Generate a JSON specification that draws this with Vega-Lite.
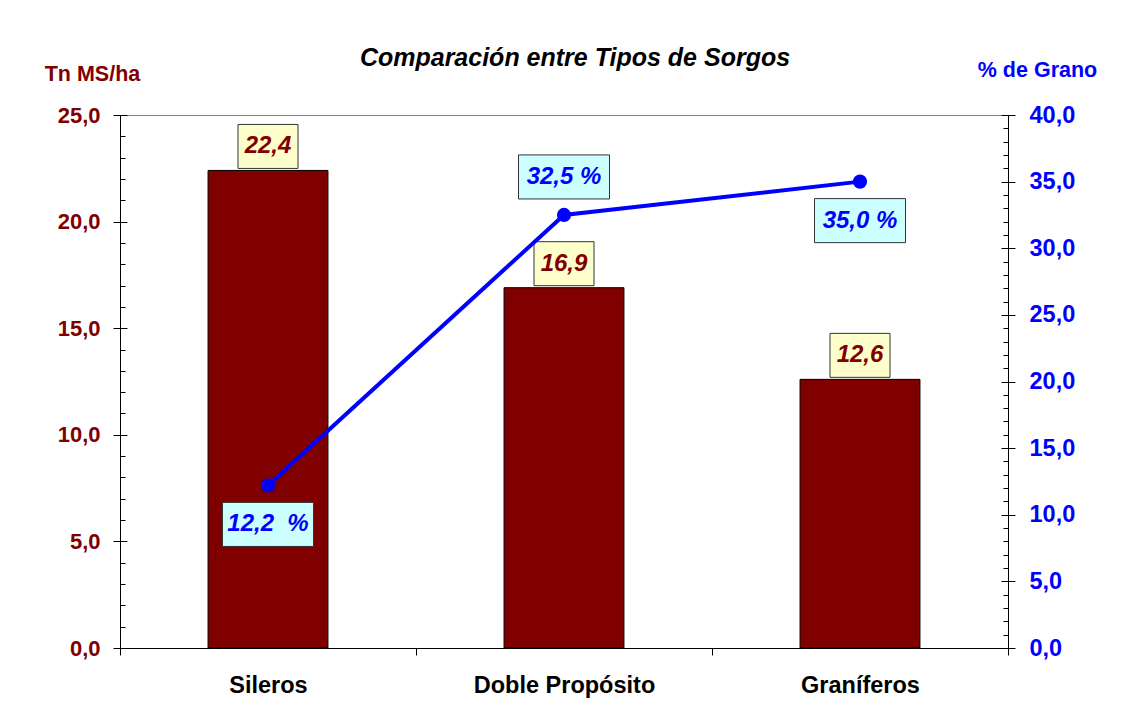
{
  "$schema": "https://vega.github.io/schema/vega-lite/v6.json",
  "width": 888,
  "height": 533,
  "autosize": "none",
  "padding": {"left": 120, "top": 115, "right": 123, "bottom": 63},
  "background": "white",
  "title": {
    "text": "Comparación entre Tipos de Sorgos",
    "font": "Liberation Sans",
    "fontSize": 25,
    "fontWeight": "bold",
    "fontStyle": "italic",
    "color": "black",
    "anchor": "middle",
    "frame": "group",
    "offset": -12,
    "dx": 11
  },
  "data": {
    "values": [
      {"tipo": "Sileros", "tn": 22.4, "tn_label": "22,4", "grano": 12.2, "grano_label": "12,2\u00a0 %"},
      {"tipo": "Doble Propósito", "tn": 16.9, "tn_label": "16,9", "grano": 32.5, "grano_label": "32,5 %"},
      {"tipo": "Graníferos", "tn": 12.6, "tn_label": "12,6", "grano": 35.0, "grano_label": "35,0 %"}
    ]
  },
  "encoding": {
    "x": {
      "field": "tipo",
      "type": "nominal",
      "sort": null,
      "scale": {"paddingInner": 0, "paddingOuter": 0},
      "axis": {
        "title": null,
        "labelAngle": 0,
        "labelFont": "Liberation Sans",
        "labelFontSize": 23.5,
        "labelFontWeight": "bold",
        "labelColor": "black",
        "labelLimit": 0,
        "tickBand": "extent",
        "tickSize": 7,
        "tickColor": "black",
        "domainColor": "black",
        "labelPadding": 18,
        "grid": false
      }
    }
  },
  "layer": [
    {
      "encoding": {
        "y": {
          "field": "tn",
          "type": "quantitative",
          "scale": {"domain": [0, 25], "nice": false},
          "axis": {
            "orient": "left",
            "title": "Tn MS/ha",
            "titleAngle": 0,
            "titleX": -28,
            "titleY": -41,
            "titleAlign": "center",
            "titleBaseline": "middle",
            "titleColor": "#800000",
            "titleFont": "Liberation Sans",
            "titleFontSize": 21.5,
            "titleFontWeight": "bold",
            "values": [0,1,2,3,4,5,6,7,8,9,10,11,12,13,14,15,16,17,18,19,20,21,22,23,24,25],
            "labelExpr": "datum.value % 5 === 0 ? replace(format(datum.value, '.1f'), '.', ',') : ''",
            "labelColor": "#800000",
            "labelFont": "Liberation Sans",
            "labelFontSize": 22,
            "labelFontWeight": "bold",
            "labelPadding": 13,
            "tickSize": {"condition": {"test": "datum.value % 5 === 0", "value": 7}, "value": -5},
            "tickColor": "black",
            "domainColor": "black",
            "grid": true,
            "gridColor": "black",
            "gridDash": [7, 3000],
            "gridOpacity": {"condition": {"test": "datum.value % 5 === 0", "value": 1}, "value": 0}
          }
        }
      },
      "layer": [
        {
          "mark": {"type": "bar", "width": {"band": 0.405}, "color": "#800000", "stroke": "black", "strokeWidth": 1}
        },
        {
          "mark": {"type": "point", "shape": "M-1,-0.733H1V0.733H-1Z", "size": 3600, "filled": true, "fill": "#FFFFCC", "stroke": "#333333", "strokeWidth": 1, "opacity": 1, "yOffset": -24}
        },
        {
          "mark": {"type": "text", "yOffset": -24, "font": "Liberation Sans", "fontSize": 24, "fontWeight": "bold", "fontStyle": "italic", "color": "#800000", "baseline": "middle", "align": "center"},
          "encoding": {"text": {"field": "tn_label"}}
        }
      ]
    },
    {
      "encoding": {
        "y": {
          "field": "grano",
          "type": "quantitative",
          "scale": {"domain": [0, 40], "nice": false},
          "axis": {
            "orient": "right",
            "title": "% de Grano",
            "titleAngle": 0,
            "titleX": 29,
            "titleY": -45,
            "titleAlign": "center",
            "titleBaseline": "middle",
            "titleColor": "#0000FF",
            "titleFont": "Liberation Sans",
            "titleFontSize": 21.5,
            "titleFontWeight": "bold",
            "values": [0,1,2,3,4,5,6,7,8,9,10,11,12,13,14,15,16,17,18,19,20,21,22,23,24,25,26,27,28,29,30,31,32,33,34,35,36,37,38,39,40],
            "labelExpr": "datum.value % 5 === 0 ? replace(format(datum.value, '.1f'), '.', ',') : ''",
            "labelColor": "#0000FF",
            "labelFont": "Liberation Sans",
            "labelFontSize": 23.5,
            "labelFontWeight": "bold",
            "labelPadding": 14,
            "tickSize": {"condition": {"test": "datum.value % 5 === 0", "value": 7}, "value": -5},
            "tickColor": "black",
            "domainColor": "black",
            "grid": true,
            "gridColor": "black",
            "gridDash": [7, 3000],
            "gridOpacity": {"condition": {"test": "datum.value % 5 === 0", "value": 1}, "value": 0}
          }
        }
      },
      "layer": [
        {
          "mark": {"type": "line", "color": "#0000FF", "strokeWidth": 4}
        },
        {
          "mark": {"type": "point", "shape": "circle", "size": 200, "filled": true, "color": "#0000FF", "opacity": 1}
        },
        {
          "transform": [{"filter": "datum.tipo !== 'Doble Propósito'"}],
          "layer": [
            {
              "mark": {"type": "point", "shape": "M-1,-0.484H1V0.484H-1Z", "size": 8281, "filled": true, "fill": "#CCFFFF", "stroke": "#333333", "strokeWidth": 1, "opacity": 1, "yOffset": 39}
            },
            {
              "mark": {"type": "text", "yOffset": 39, "font": "Liberation Sans", "fontSize": 24, "fontWeight": "bold", "fontStyle": "italic", "color": "#0000FF", "baseline": "middle", "align": "center"},
              "encoding": {"text": {"field": "grano_label"}}
            }
          ]
        },
        {
          "transform": [{"filter": "datum.tipo === 'Doble Propósito'"}],
          "layer": [
            {
              "mark": {"type": "point", "shape": "M-1,-0.484H1V0.484H-1Z", "size": 8281, "filled": true, "fill": "#CCFFFF", "stroke": "#333333", "strokeWidth": 1, "opacity": 1, "yOffset": -38}
            },
            {
              "mark": {"type": "text", "yOffset": -38, "font": "Liberation Sans", "fontSize": 24, "fontWeight": "bold", "fontStyle": "italic", "color": "#0000FF", "baseline": "middle", "align": "center"},
              "encoding": {"text": {"field": "grano_label"}}
            }
          ]
        }
      ]
    }
  ],
  "resolve": {"scale": {"y": "independent"}},
  "config": {
    "view": {"stroke": "#808080"},
    "font": "Liberation Sans"
  }
}
